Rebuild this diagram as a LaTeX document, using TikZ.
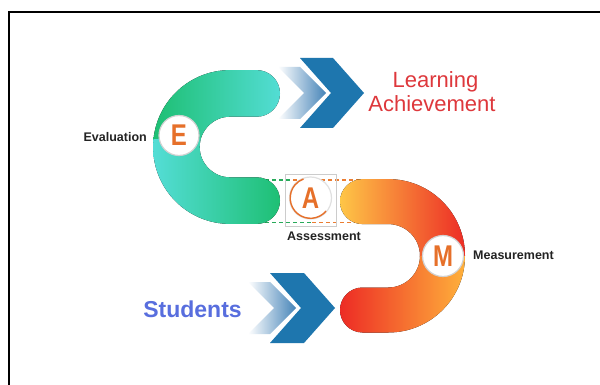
\documentclass[tikz,border=0pt]{standalone}
\usepackage{fontspec}
\setmainfont{Liberation Sans}
\definecolor{cgreen}{RGB}{28,190,112}
\definecolor{ccyan}{RGB}{85,222,216}
\definecolor{syellow}{RGB}{255,204,72}
\definecolor{sred}{RGB}{236,38,36}
\definecolor{sorange}{RGB}{255,182,60}
\definecolor{chev}{RGB}{30,118,174}
\definecolor{chevl}{RGB}{70,132,184}
\definecolor{letter}{RGB}{230,112,42}
\definecolor{lred}{RGB}{222,56,60}
\definecolor{lblue}{RGB}{88,110,222}
\definecolor{dgreen}{RGB}{40,170,90}
\definecolor{dorange}{RGB}{235,125,50}
\definecolor{labelc}{RGB}{35,35,35}
\begin{document}
\begin{tikzpicture}[x=1pt,y=-1pt,
  badge/.style={circle,fill=white,draw=black!18,line width=1.2pt,minimum size=#1,inner sep=0pt},
  badgeletter/.style={text=letter,font=\fontsize{30}{30}\selectfont\bfseries,inner sep=0pt},
  steplabel/.style={text=labelc,font=\fontsize{12.5}{12.5}\selectfont\bfseries,inner sep=0pt},
  dash line/.style={line width=1.5pt,dash pattern=on 4pt off 3pt}]
\useasboundingbox (0,0) rectangle (600,385);
\fill[white] (0,0) rectangle (600,385);
\draw[line width=2pt] (9,400) -- (9,12.5) -- (615,12.5);

% dashed connectors between C and S
\coordinate (t1) at (258,180); \coordinate (t2) at (293,180); \coordinate (t3) at (380,180);
\coordinate (b1) at (258,222.5); \coordinate (b2) at (312,222.5); \coordinate (b3) at (380,222.5);
\draw[dash line,dgreen] (t1) -- (t2);
\draw[dash line,dorange] (t2) -- (t3);
\draw[dash line,dgreen] (b1) -- (b2);
\draw[dash line,dorange] (b2) -- (b3);

% C shape
\begin{scope}
\clip (256.7,70.1) -- (230,70.1) arc[start angle=270,end angle=90,radius=76.9]
  -- (256.7,223.9) arc[start angle=90,end angle=-90,radius=23.3]
  -- (230,177.3) arc[start angle=90,end angle=270,radius=30.3]
  -- (256.7,116.7) arc[start angle=90,end angle=-90,radius=23.3] -- cycle;
\fill[left color=cgreen,right color=ccyan] (150,60) rectangle (285,140);
\fill[left color=ccyan,right color=cgreen] (150,140) rectangle (285,230);
\end{scope}

% S shape
\begin{scope}
\clip (362.5,179.1) -- (388.3,179.1) arc[start angle=-90,end angle=90,radius=76.7]
  -- (362.5,332.5) arc[start angle=90,end angle=270,radius=22.5]
  -- (388.3,287.5) arc[start angle=90,end angle=-90,radius=31.7]
  -- (362.5,224.1) arc[start angle=90,end angle=270,radius=22.5] -- cycle;
\fill[left color=syellow,right color=sred] (335,170) rectangle (470,256);
\fill[left color=sred,right color=sorange] (335,256) rectangle (470,340);
\end{scope}

% chevrons
\shade[left color=white,right color=chevl] (278,67) -- (300,67) -- (326,93) -- (300,119) -- (278,119) -- (304,93) -- cycle;
\fill[chev] (300,58) -- (333,58) -- (364,93) -- (333,128) -- (300,128) -- (331,93) -- cycle;
\shade[left color=white,right color=chevl] (248,282) -- (270,282) -- (296,308) -- (270,334) -- (248,334) -- (274,308) -- cycle;
\fill[chev] (270,273) -- (304,273) -- (335,308) -- (304,343) -- (270,343) -- (301,308) -- cycle;

% faint box behind A
\draw[black!20,line width=0.5pt] (285,174) rectangle (336,226);

% badges
\node[badge=40pt] (E) at (179,135.5) {};
\node[badgeletter] at (E) {\scalebox{0.8}[1]{E}};
\node[badge=42pt,draw=black!12] (A) at (310.5,198) {};
\draw[letter,line width=1.4pt] (A) ++(40:20.3) arc[start angle=40,end angle=250,radius=20.3];
\node[badgeletter] at (A) {\scalebox{0.8}[1]{A}};
\node[badge=41pt] (M) at (443,256) {};
\node[badgeletter] at (M) {\scalebox{0.8}[1]{M}};

% labels
\node[steplabel,anchor=east] (eval) at (147,137.5) {Evaluation};
\node[steplabel] (assess) at (324,236) {Assessment};
\node[steplabel,anchor=west] (meas) at (473,255) {Measurement};
\node[text=lred,font=\fontsize{22}{22}\selectfont,anchor=base,inner sep=0pt] (learn) at (435.5,88) {Learning};
\node[text=lred,font=\fontsize{22}{22}\selectfont,anchor=base,inner sep=0pt] (achieve) at (432,112) {Achievement};
\node[text=lblue,font=\fontsize{23}{23}\selectfont\bfseries,anchor=base,inner sep=0pt] (students) at (192.5,317) {Students};
\end{tikzpicture}
\end{document}
